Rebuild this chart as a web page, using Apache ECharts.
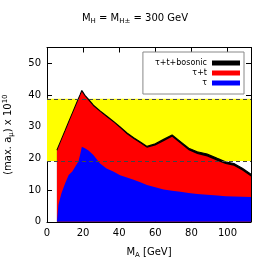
<!DOCTYPE html>
<html>
<head>
<meta charset="utf-8">
<script src="https://cdn.jsdelivr.net/npm/echarts@6/dist/echarts.min.js"></script>
<style>html,body{margin:0;padding:0;background:#fff}#c{width:270px;height:270px}</style>
</head>
<body>
<div id="c"></div>
<script>
const massA = [5.5, 6.3, 8, 10, 12, 14, 15.6, 17.4, 18.3, 19.3, 21, 23, 25.7, 29.4, 33, 37, 40.5, 44.3, 48, 51.7, 55.4, 56.3, 60, 64.6, 69.3, 73.9, 78.5, 83.2, 88.7, 94.3, 98.9, 103.5, 108.2, 113];
const tau = [0, 5.3, 9.0, 12.1, 14.8, 15.9, 17.4, 19.0, 21.1, 23.7, 23.2, 22.5, 21.1, 18.4, 16.8, 15.8, 14.7, 14.0, 13.3, 12.5, 11.6, 11.4, 10.9, 10.2, 9.8, 9.5, 9.1, 8.8, 8.5, 8.3, 8.1, 8.0, 7.9, 7.8];
const tauT = [22.3, 23.4, 25.7, 28.4, 31.2, 33.9, 36.1, 38.5, 39.7, 41.0, 39.6, 38.3, 36.5, 34.7, 33.1, 31.3, 29.6, 27.6, 26.1, 24.8, 23.4, 23.1, 24.1, 25.4, 26.8, 24.7, 22.6, 21.4, 20.6, 19.3, 18.2, 17.7, 16.2, 14.3];
const tauTBos = [22.6, 23.7, 26.0, 28.7, 31.5, 34.2, 36.4, 38.8, 40.0, 41.4, 39.9, 38.6, 36.8, 35.0, 33.4, 31.6, 29.9, 28.0, 26.5, 25.2, 23.8, 23.5, 24.6, 26.0, 27.4, 25.3, 23.2, 22.1, 21.4, 20.0, 18.9, 18.4, 16.9, 15.0];
const bandLow = 19.2;
const bandHigh = 38.8;
const seriesNames = ['τ+t+bosonic', 'τ+t', 'τ'];
const xTicks = {min: 0, max: 113, interval: 20};
const yTicks = {min: 0, max: 55, interval: 10};

const pairs = arr => massA.map((x, i) => [x, arr[i]]);
const font = 'DejaVu Sans';
const chart = echarts.init(document.getElementById('c'), null, {renderer: 'canvas'});

const axisCommon = {
  axisLine: {show: true, onZero: false, lineStyle: {color: '#000', width: 1}},
  axisTick: {show: true, inside: true, length: 5, lineStyle: {color: '#000', width: 1}},
  splitLine: {show: false}
};
const richMain = {fontFamily: font, fontSize: 10, fontWeight: 'normal', color: '#000', lineHeight: 13};
const richSub = {fontFamily: font, fontSize: 7, fontWeight: 'normal', color: '#000', lineHeight: 8, verticalAlign: 'bottom'};
const richSup = {fontFamily: font, fontSize: 7, fontWeight: 'normal', color: '#000', lineHeight: 8, verticalAlign: 'top'};

chart.setOption({
  animation: false,
  backgroundColor: '#fff',
  textStyle: {fontFamily: font},
  title: {
    text: '{m|M}{s|H}{m| = M}{s|H±}{m| = 300 GeV}',
    left: 'center',
    top: 7,
    textStyle: {fontWeight: 'normal', rich: {m: richMain, s: richSub}}
  },
  grid: {left: 47, right: 19, top: 47.5, bottom: 48.2, containLabel: false, outerBoundsMode: 'none'},
  legend: {
    orient: 'vertical',
    right: 26,
    top: 52,
    align: 'right',
    itemWidth: 28,
    itemHeight: 5,
    itemGap: 2,
    padding: [7, 4, 7, 12],
    backgroundColor: '#fff',
    borderColor: '#888',
    borderWidth: 1,
    borderRadius: 0,
    textStyle: {fontFamily: font, fontSize: 8, color: '#000'},
    data: seriesNames.map(n => ({name: n, icon: 'rect'}))
  },
  xAxis: [
    Object.assign({
      type: 'value', position: 'bottom',
      min: xTicks.min, max: xTicks.max, interval: xTicks.interval,
      axisLabel: {color: '#000', fontSize: 10, fontFamily: font, margin: 7, showMaxLabel: false},
      name: '{m|M}{s|A}{m| [GeV]}',
      nameLocation: 'middle',
      nameGap: 24,
      nameTextStyle: {rich: {m: richMain, s: richSub}}
    }, axisCommon),
    Object.assign({
      type: 'value', position: 'top',
      min: xTicks.min, max: xTicks.max, interval: xTicks.interval,
      axisLabel: {show: false}
    }, axisCommon)
  ],
  yAxis: [
    Object.assign({
      type: 'value', position: 'left',
      min: yTicks.min, max: yTicks.max, interval: yTicks.interval,
      axisLabel: {color: '#000', fontSize: 10, fontFamily: font, margin: 6, showMaxLabel: false},
      name: '{m|(max. a}{s|μ}{m|) x 10}{p|10}',
      nameLocation: 'middle',
      nameRotate: 90,
      nameGap: 32,
      nameTextStyle: {rich: {m: richMain, s: richSub, p: richSup}}
    }, axisCommon),
    Object.assign({
      type: 'value', position: 'right',
      min: yTicks.min, max: yTicks.max, interval: yTicks.interval,
      axisLabel: {show: false}
    }, axisCommon)
  ],
  series: [
    {
      type: 'line', name: 'band', data: [], z: 0, silent: true,
      markArea: {
        silent: true,
        itemStyle: {color: '#ffff00'},
        data: [[{yAxis: bandLow}, {yAxis: bandHigh}]]
      }
    },
    {
      type: 'line', name: seriesNames[0], data: pairs(tauTBos), z: 2,
      showSymbol: false, smooth: false,
      lineStyle: {color: '#000', width: 1.2},
      itemStyle: {color: '#000'},
      areaStyle: {color: '#000', opacity: 1}
    },
    {
      type: 'line', name: seriesNames[1], data: pairs(tauT), z: 3,
      showSymbol: false,
      lineStyle: {width: 0},
      itemStyle: {color: '#ff0000'},
      areaStyle: {color: '#ff0000', opacity: 1}
    },
    {
      type: 'line', name: seriesNames[2], data: pairs(tau), z: 4,
      showSymbol: false,
      lineStyle: {width: 0},
      itemStyle: {color: '#0000ff'},
      areaStyle: {color: '#0000ff', opacity: 1}
    },
    {
      type: 'line', name: 'bandEdges', data: [], z: 5, silent: true,
      markLine: {
        silent: true, symbol: 'none', label: {show: false},
        lineStyle: {color: '#444', type: [4, 3], width: 1},
        data: [{yAxis: bandLow}, {yAxis: bandHigh}]
      }
    }
  ]
});
</script>
</body>
</html>
